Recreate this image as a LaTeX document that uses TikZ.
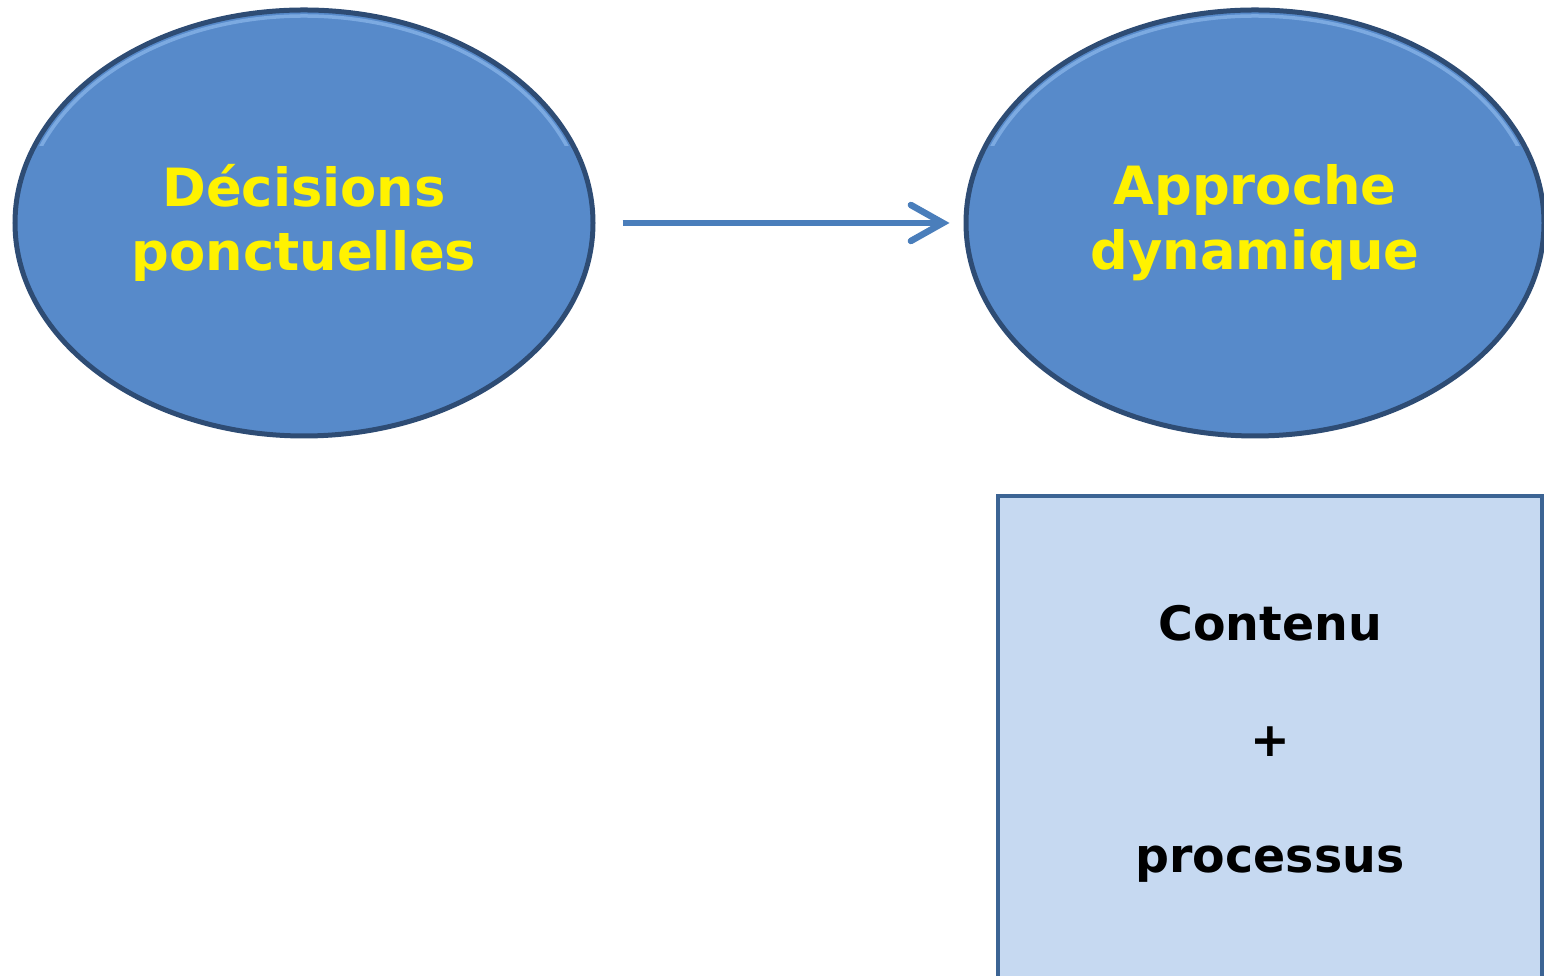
\documentclass[tikz,border=0pt]{standalone}
\usepackage{fontspec}
\setmainfont{DejaVu Sans}
\usepackage{tikz}
\usetikzlibrary{arrows.meta,positioning,shapes.geometric}
\definecolor{ovalblue}{HTML}{578ACA}
\definecolor{ovalrim}{HTML}{2E4C74}
\definecolor{ovalshine}{HTML}{8DB8EC}
\definecolor{arrowblue}{HTML}{4A7EBB}
\definecolor{boxfill}{HTML}{C6D9F1}
\definecolor{boxline}{HTML}{3C6494}

\begin{document}
\begin{tikzpicture}[
  every node/.style={font=\bfseries, align=center},
  oval/.style={draw=ovalrim, ellipse, line width=0.5mm, fill=ovalblue,
               minimum width=57.8mm, minimum height=42.6mm, inner sep=0pt,
               text=yellow, font=\fontsize{15}{18.4}\selectfont\bfseries},
  rim/.style={draw=ovalshine, line width=0.35mm, opacity=0.7},
  panel/.style={draw=boxline, rectangle, line width=0.4mm, fill=boxfill,
                minimum width=54.4mm, minimum height=49.6mm,
                font=\fontsize{13.5}{33}\selectfont\bfseries},
  arr/.style={-{Straight Barb[length=3.2mm, width=3.6mm, line cap=round]},
              line width=0.65mm, draw=arrowblue}
]
  \useasboundingbox (0,0) rectangle (15.44,9.76);
  \clip (0,0) rectangle (15.44,9.76);

  \node[oval] (dec) at (3.04,7.53) {Décisions\\ponctuelles};
  \node[oval] (dyn) at (12.55,7.53) {Approche\\dynamique};

  \begin{scope}
    \clip (0,8.3) rectangle (15.44,9.76);
    \draw[rim] (dec.center) ellipse (2.83 and 2.07);
    \draw[rim] (dyn.center) ellipse (2.83 and 2.07);
  \end{scope}

  \node[panel] (cp) at (12.70,2.32) {Contenu\\+\\processus};

  \draw[arr, shorten <=2.7mm, shorten >=1.4mm] (dec) -- (dyn);
\end{tikzpicture}
\end{document}
